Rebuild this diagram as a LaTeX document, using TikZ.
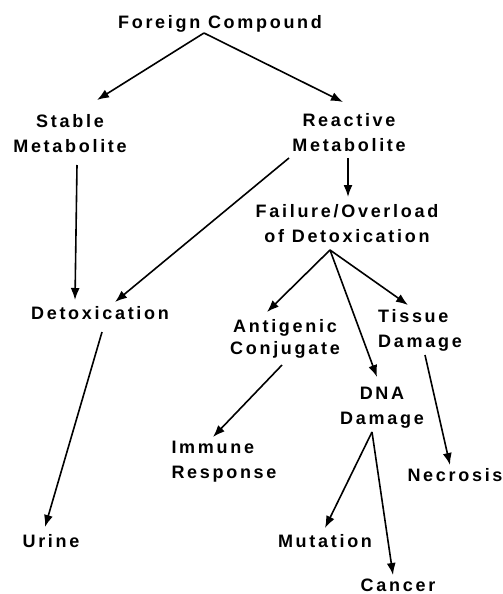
\documentclass[tikz,border=0pt]{standalone}
\usepackage{fontspec}
\usepackage{tikz}
\usetikzlibrary{arrows.meta}
\newfontfamily\pathfont{Liberation Sans}[LetterSpace=15]

\begin{document}
\begin{tikzpicture}[x=1pt, y=-1pt,
    stage/.style={font=\pathfont\bfseries\fontsize{18}{25}\selectfont, align=center, inner sep=1pt},
    flow/.style={line width=1.6pt, -{Latex[length=12pt, width=9pt]}}]
    \useasboundingbox (0,0) rectangle (503,594);

    % Compound and its metabolites
    \node[stage] (fc) at (220,24) {Foreign Compound};
    \node[stage] (stable) at (70,134) {Stable\\Metabolite};
    \node[stage] (reactive) at (349,133) {Reactive\\Metabolite};
    \node[stage] (failure) at (347,224) {Failure/Overload\\of Detoxication};

    % Outcomes
    \node[stage] (detox) at (100,313) {Detoxication};
    \node[stage, font=\pathfont\bfseries\fontsize{18}{22}\selectfont] (antigenic) at (285,339) {Antigenic\\Conjugate};
    \node[stage, align=left] (tissue) at (420,330) {Tissue\\Damage};
    \node[stage] (dna) at (382,408) {DNA\\Damage};
    \node[stage, align=left] (immune) at (224,462) {Immune\\Response};
    \node[stage] (necrosis) at (455,475) {Necrosis};
    \node[stage] (urine) at (51,541) {Urine};
    \node[stage] (mutation) at (325,541) {Mutation};
    \node[stage] (cancer) at (398,585) {Cancer};

    % Arrows
    \draw[flow] ([shift={(-16,9)}]fc.center) -- ([shift={(27,-34)}]stable.center);
    \draw[flow] ([shift={(-16,9)}]fc.center) -- ([shift={(-6,-31)}]reactive.center);
    \draw[flow] ([shift={(7,31)}]stable.center) -- ([shift={(-25,-13)}]detox.center);
    \draw[flow] ([shift={(-60,25)}]reactive.center) -- ([shift={(15,-11)}]detox.center);
    \draw[flow] ([shift={(-1,25)}]reactive.center) -- ([shift={(1,-27)}]failure.center);
    \draw[flow] ([shift={(-17,26)}]failure.center) -- ([shift={(-18,-27)}]antigenic.center);
    \draw[flow] ([shift={(-17,26)}]failure.center) -- ([shift={(-5,-31)}]dna.center);
    \draw[flow] ([shift={(-17,26)}]failure.center) -- ([shift={(-12,-25)}]tissue.center);
    \draw[flow] ([shift={(-3,26)}]antigenic.center) -- ([shift={(-11,-25)}]immune.center);
    \draw[flow] ([shift={(5,25)}]tissue.center) -- ([shift={(-5,-10)}]necrosis.center);
    \draw[flow] ([shift={(2,19)}]detox.center) -- ([shift={(-6,-14)}]urine.center);
    \draw[flow] ([shift={(-10,24)}]dna.center) -- ([shift={(0,-13)}]mutation.center);
    \draw[flow] ([shift={(-10,24)}]dna.center) -- ([shift={(-5,-10)}]cancer.center);
\end{tikzpicture}
\end{document}
